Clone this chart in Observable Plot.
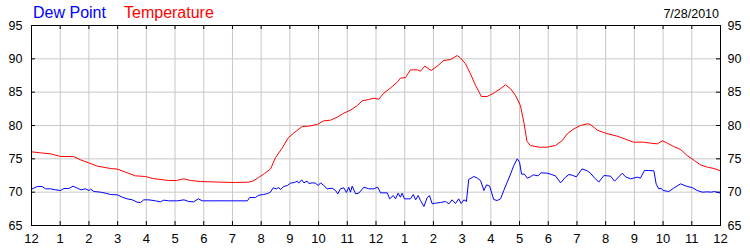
<!DOCTYPE html>
<html>
<head>
<meta charset="utf-8">
<script src="https://cdn.jsdelivr.net/npm/d3@7"></script>
<script src="https://cdn.jsdelivr.net/npm/@observablehq/plot@0.6"></script>
<style>
  html, body { margin: 0; padding: 0; background: #fff; }
  #chart svg { display: block; }
</style>
</head>
<body>
<div id="chart"></div>
<script>
// ---- data (hours after midnight, °F) ----
const seriesNames = ["Dew Point", "Temperature"];
const dateLabel = "7/28/2010";
const hourTicks = [0,1,2,3,4,5,6,7,8,9,10,11,12,13,14,15,16,17,18,19,20,21,22,23,24];
const hourLabels = ["12","1","2","3","4","5","6","7","8","9","10","11","12","1","2","3","4","5","6","7","8","9","10","11","12"];
const valueTicks = [65,70,75,80,85,90,95];

const tempTimes = [0,0.31,0.66,1.01,1.46,1.71,1.99,2.30,2.75,3.00,3.27,3.62,3.97,4.22,4.77,5.05,5.30,5.54,5.89,6.24,6.58,7.11,7.56,7.73,7.91,8.12,8.33,8.50,8.73,8.95,9.13,9.43,9.65,9.95,10.18,10.42,10.65,10.88,11.11,11.35,11.52,11.75,11.92,12.10,12.27,12.51,12.74,12.85,13.03,13.09,13.20,13.44,13.55,13.70,13.92,14.13,14.36,14.60,14.83,14.94,15.12,15.29,15.47,15.67,15.87,16.10,16.34,16.51,16.69,16.86,17.03,17.15,17.26,17.38,17.67,17.96,18.25,18.49,18.66,18.89,19.12,19.36,19.47,19.71,19.99,20.40,20.69,20.97,21.32,21.56,21.80,21.98,22.15,22.37,22.61,22.84,23.09,23.30,23.54,23.77,24];
const tempValues = [76.05,75.9,75.75,75.35,75.35,74.85,74.4,73.9,73.55,73.45,73.0,72.45,72.35,72.05,71.75,71.75,72.0,71.75,71.6,71.55,71.5,71.45,71.5,71.7,72.2,72.8,73.5,75.2,76.6,78.2,78.85,79.85,79.9,80.15,80.7,80.8,81.25,81.85,82.3,83.0,83.7,83.9,84.1,83.95,84.85,85.65,86.5,87.1,87.2,87.6,88.35,88.35,88.15,88.9,88.25,88.9,89.75,89.9,90.5,90.15,89.25,87.75,86.0,84.35,84.35,84.85,85.55,86.1,85.5,84.5,83.0,80.5,77.6,77.0,76.75,76.75,77.0,77.75,78.75,79.5,80.0,80.25,80.15,79.3,78.85,78.4,77.95,77.5,77.5,77.35,77.25,77.7,77.35,76.85,76.4,75.5,74.75,74.1,73.75,73.55,73.2];

const dewTimes = [0,0.20,0.37,0.49,0.66,0.84,1.01,1.13,1.30,1.45,1.59,1.73,1.88,2.00,2.06,2.17,2.40,2.58,2.75,2.99,3.16,3.33,3.51,3.68,3.80,3.91,4.09,4.32,4.49,4.61,4.78,5.08,5.31,5.48,5.65,5.81,5.95,6.35,7.05,7.52,7.60,7.80,7.92,8.09,8.23,8.33,8.42,8.53,8.61,8.67,8.79,8.91,9.02,9.16,9.26,9.31,9.41,9.49,9.60,9.66,9.78,9.89,9.99,10.07,10.18,10.30,10.47,10.59,10.67,10.76,10.88,10.97,11.05,11.11,11.17,11.29,11.40,11.58,11.75,11.92,12.06,12.16,12.39,12.48,12.60,12.68,12.77,12.85,12.91,12.99,13.20,13.30,13.38,13.47,13.55,13.67,13.78,13.86,13.96,14.07,14.25,14.42,14.54,14.65,14.77,14.88,14.97,15.06,15.15,15.23,15.41,15.53,15.64,15.76,15.85,15.96,16.10,16.22,16.34,16.45,16.57,16.69,16.80,16.92,17.00,17.07,17.17,17.27,17.38,17.48,17.64,17.75,17.96,18.08,18.25,18.43,18.60,18.72,18.83,18.98,19.18,19.36,19.47,19.59,19.76,19.94,20.17,20.31,20.58,20.69,20.87,21.10,21.21,21.35,21.50,21.68,21.76,21.85,21.93,22.00,22.20,22.37,22.61,22.84,23.01,23.19,23.36,23.54,23.68,23.79,23.94,24];
const dewValues = [70.45,70.85,70.85,70.5,70.5,70.35,70.25,70.55,70.55,70.9,70.6,70.35,70.5,70.25,70.45,70.1,70.0,69.85,69.65,69.6,69.25,69.0,68.85,68.5,68.45,68.85,68.85,68.7,68.55,68.8,68.7,68.7,68.85,68.6,68.55,69.0,68.7,68.7,68.7,68.7,69.2,69.2,69.55,69.65,69.8,70.05,70.65,70.5,70.7,70.4,70.85,71.0,71.35,71.45,71.65,71.35,71.85,71.4,71.65,71.3,71.4,71.35,71.0,71.4,71.0,70.5,70.6,70.25,69.75,70.5,70.65,69.95,70.75,70.0,70.9,69.75,69.85,70.75,70.5,70.5,70.75,69.9,69.9,69.0,69.5,69.0,69.85,69.25,69.85,69.0,69.0,69.65,68.85,69.5,68.75,67.85,69.15,69.5,68.25,68.35,68.45,68.6,68.25,68.85,68.3,69.0,68.3,68.85,68.6,71.9,72.35,72.1,71.75,70.25,71.1,70.9,68.9,68.75,69.0,70.25,71.5,72.75,74.0,75.0,74.5,72.7,72.7,72.1,72.3,72.6,72.45,72.9,72.85,72.7,72.45,71.4,72.25,72.65,72.55,72.3,73.5,73.2,72.85,72.25,71.5,72.5,72.4,71.65,72.85,72.3,72.0,72.25,72.1,73.25,73.25,73.2,71.2,70.5,70.6,70.25,70.1,70.6,71.25,70.85,70.7,70.25,70.0,70.05,70.0,70.1,69.9,69.9];

const seriesColors = ["#0000ff", "#ff0000"];

// ---- build tables ----
const temp = tempTimes.map((t, i) => ({t, v: tempValues[i]}));
const dew = dewTimes.map((t, i) => ({t, v: dewValues[i]}));
const fmtHour = h => hourLabels[hourTicks.indexOf(h)];

const W = 750, H = 250;
const mL = 31, mR = 30, mT = 25, mB = 25;
const innerW = W - mL - mR, innerH = H - mT - mB;
const tick = 4;

const chart = Plot.plot({
  width: W,
  height: H,
  marginLeft: mL,
  marginRight: mR,
  marginTop: mT,
  marginBottom: mB,
  style: {fontFamily: "'Liberation Sans', Arial, sans-serif", background: "#fff", color: "#000"},
  x: {domain: [0, 24], ticks: hourTicks, tickFormat: fmtHour},
  y: {domain: [65, 95], ticks: valueTicks},
  marks: [
    Plot.gridX(hourTicks, {stroke: "#c8c8c8", strokeOpacity: 1}),
    Plot.gridY(valueTicks, {stroke: "#c8c8c8", strokeOpacity: 1}),
    // inward tick marks on all four sides
    Plot.tickX(hourTicks, {x: d => d, stroke: "#000", insetBottom: innerH - tick}),
    Plot.tickX(hourTicks, {x: d => d, stroke: "#000", insetTop: innerH - tick}),
    Plot.tickY(valueTicks, {y: d => d, stroke: "#000", insetRight: innerW - tick}),
    Plot.tickY(valueTicks, {y: d => d, stroke: "#000", insetLeft: innerW - tick}),
    Plot.line(dew, {x: "t", y: "v", stroke: seriesColors[0], strokeWidth: 1}),
    Plot.line(temp, {x: "t", y: "v", stroke: seriesColors[1], strokeWidth: 1}),
    Plot.frame({stroke: "#000", strokeWidth: 1}),
    Plot.axisY(valueTicks, {anchor: "left", tickSize: 0, tickPadding: 9, fontSize: 12.5, label: null}),
    Plot.axisY(valueTicks, {anchor: "right", tickSize: 0, tickPadding: 7, fontSize: 12.5, label: null}),
    Plot.axisX(hourTicks, {anchor: "bottom", tickSize: 0, tickPadding: 8, fontSize: 13, label: null, tickFormat: fmtHour}),
    Plot.text([seriesNames[0]], {frameAnchor: "top-left", text: d => d, dx: 1.5, dy: -7.5, lineAnchor: "bottom", textAnchor: "start", fontSize: 16, fill: seriesColors[0]}),
    Plot.text([seriesNames[1]], {frameAnchor: "top-left", text: d => d, dx: 92.5, dy: -7.5, lineAnchor: "bottom", textAnchor: "start", fontSize: 16, fill: seriesColors[1]}),
    Plot.text([dateLabel], {frameAnchor: "top-right", text: d => d, dx: -1.5, dy: -8, lineAnchor: "bottom", textAnchor: "end", fontSize: 12.5, fill: "#000"})
  ]
});
document.getElementById("chart").appendChild(chart);
</script>
</body>
</html>
